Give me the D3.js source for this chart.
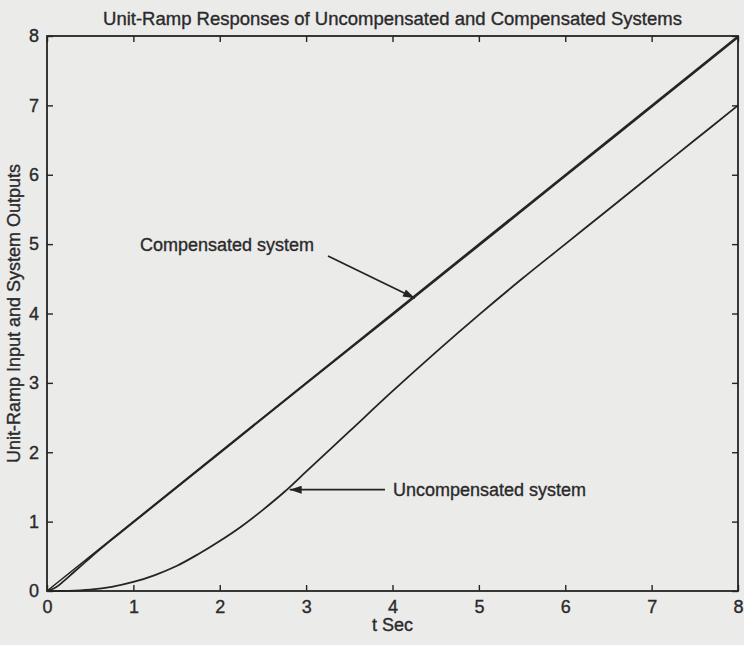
<!DOCTYPE html>
<html>
<head>
<meta charset="utf-8">
<script src="https://cdn.jsdelivr.net/npm/d3@7"></script>
<style>
  html, body { margin: 0; padding: 0; background: #ebebea; }
  svg { display: block; }
  text { font-family: "Liberation Sans", Arial, sans-serif; fill: #2a2a2a; stroke: #2a2a2a; stroke-width: 0.35px; }
</style>
</head>
<body>
<svg id="chart" width="744" height="645"></svg>
<script>
// Sample times (s) and responses
const tUnc = [0, 0.25, 0.5, 0.75, 1, 1.25, 1.5, 1.75, 2, 2.25, 2.5, 2.75, 3, 3.5, 4, 4.5, 5, 5.5, 6, 6.5, 7, 7.5, 8];
const yUnc = [0, 0.003, 0.02, 0.06, 0.13, 0.23, 0.36, 0.53, 0.72, 0.93, 1.17, 1.43, 1.72, 2.3, 2.88, 3.44, 3.98, 4.5, 5.0, 5.5, 6.0, 6.5, 7.0];

const tComp = [0, 0.1, 0.2, 0.3, 0.4, 0.5, 0.75, 1, 2, 3, 4, 5, 6, 7, 8];
const yComp = [0, 0.05, 0.15, 0.26, 0.37, 0.48, 0.74, 0.99, 1.99, 2.99, 3.98, 4.98, 5.98, 6.98, 7.98];

// Unit-ramp input r(t) = t
const tRamp = [0, 8];
const yRamp = [0, 8];

const xTicks = [0, 1, 2, 3, 4, 5, 6, 7, 8];
const yTicks = [0, 1, 2, 3, 4, 5, 6, 7, 8];

const titleText = "Unit-Ramp Responses of Uncompensated and Compensated Systems";
const xLabelText = "t Sec";
const yLabelText = "Unit-Ramp Input and System Outputs";
const compLabel = { text: "Compensated system", t: 4.26, y: 4.22 };
const uncLabel = { text: "Uncompensated system", t: 2.81, y: 1.46 };

const svg = d3.select("#chart");
const m = { left: 47, right: 738, top: 36, bottom: 591 };

const x = d3.scaleLinear().domain([0, 8]).range([m.left, m.right]);
const y = d3.scaleLinear().domain([0, 8]).range([m.bottom, m.top]);

const ink = "#242424";
const font = "Liberation Sans, Arial, sans-serif";

// Axes box with inward ticks on all four sides
const tickLen = 6;
const styleTicks = g => g.selectAll("line").attr("stroke", ink).attr("stroke-width", 1.4);
const styleLabels = g => g.selectAll("text").attr("font-size", 18).attr("font-family", font)
  .style("fill", "#2a2a2a");

svg.append("g").attr("transform", `translate(0,${m.bottom})`)
  .call(d3.axisBottom(x).tickValues(xTicks).tickSize(-tickLen).tickPadding(9).tickFormat(d3.format("d")))
  .call(g => g.select(".domain").remove())
  .call(styleTicks).call(styleLabels);
svg.append("g").attr("transform", `translate(0,${m.top})`)
  .call(d3.axisTop(x).tickValues(xTicks).tickSize(-tickLen).tickFormat(""))
  .call(g => g.select(".domain").remove())
  .call(styleTicks);
svg.append("g").attr("transform", `translate(${m.left},0)`)
  .call(d3.axisLeft(y).tickValues(yTicks).tickSize(-tickLen).tickPadding(8).tickFormat(d3.format("d")))
  .call(g => g.select(".domain").remove())
  .call(styleTicks).call(styleLabels);
svg.append("g").attr("transform", `translate(${m.right},0)`)
  .call(d3.axisRight(y).tickValues(yTicks).tickSize(-tickLen).tickFormat(""))
  .call(g => g.select(".domain").remove())
  .call(styleTicks);

svg.append("rect")
  .attr("x", m.left).attr("y", m.top)
  .attr("width", m.right - m.left).attr("height", m.bottom - m.top)
  .attr("fill", "none").attr("stroke", ink).attr("stroke-width", 1.8);

// Response curves
const line = d3.line().x(d => x(d[0])).y(d => y(d[1])).curve(d3.curveCatmullRom.alpha(0.5));
const plot = svg.append("g").attr("fill", "none").attr("stroke", ink);
plot.append("path").datum(d3.zip(tRamp, yRamp))
  .attr("d", line).attr("stroke-width", 1.6);
plot.append("path").datum(d3.zip(tComp, yComp))
  .attr("d", line).attr("stroke-width", 1.8);
plot.append("path").datum(d3.zip(tUnc, yUnc))
  .attr("d", line).attr("stroke-width", 1.8);

// Arrowhead marker
svg.append("defs").append("marker")
  .attr("id", "head").attr("viewBox", "0 0 12 8")
  .attr("refX", 12).attr("refY", 4)
  .attr("markerWidth", 13).attr("markerHeight", 8)
  .attr("markerUnits", "userSpaceOnUse").attr("orient", "auto")
  .append("path").attr("d", "M0,0 L12,4 L0,8 Z").attr("fill", ink);

// Annotation: compensated
const cx = x(compLabel.t), cy = y(compLabel.y);
svg.append("text").attr("x", 140).attr("y", 251)
  .attr("font-size", 18).text(compLabel.text);
svg.append("line")
  .attr("x1", 328).attr("y1", 256).attr("x2", cx).attr("y2", cy)
  .attr("stroke", ink).attr("stroke-width", 1.8).attr("marker-end", "url(#head)");

// Annotation: uncompensated
const ux = x(uncLabel.t), uy = y(uncLabel.y);
svg.append("text").attr("x", 393).attr("y", uy + 6)
  .attr("font-size", 18).text(uncLabel.text);
svg.append("line")
  .attr("x1", 385).attr("y1", uy).attr("x2", ux).attr("y2", uy)
  .attr("stroke", ink).attr("stroke-width", 1.8).attr("marker-end", "url(#head)");

// Title and axis labels
svg.append("text").attr("x", (m.left + m.right) / 2).attr("y", 25)
  .attr("text-anchor", "middle").attr("font-size", 18.5).text(titleText);
svg.append("text").attr("x", (m.left + m.right) / 2).attr("y", 631)
  .attr("text-anchor", "middle").attr("font-size", 18).text(xLabelText);
svg.append("text")
  .attr("transform", `translate(20,${(m.top + m.bottom) / 2}) rotate(-90)`)
  .attr("text-anchor", "middle").attr("font-size", 18).text(yLabelText);
</script>
</body>
</html>
